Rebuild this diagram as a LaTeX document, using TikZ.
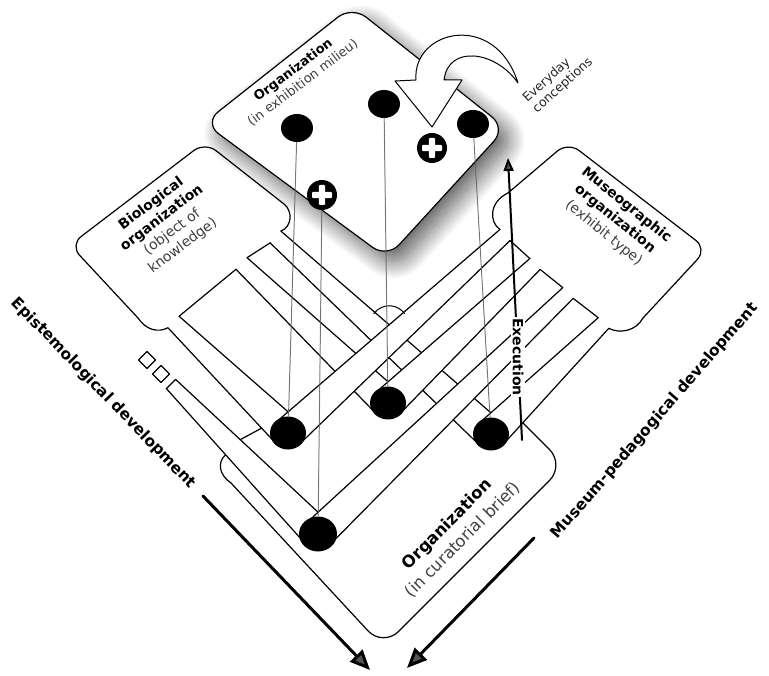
\documentclass[tikz,border=0pt]{standalone}
\usepackage{fontspec}
\setmainfont{DejaVu Sans}
\usetikzlibrary{calc,arrows.meta,shapes.geometric,shadows.blur}

\newcommand\defarm[5]{%
  \coordinate (#1p0) at ($(#2)!#4!90:(#3)$);
  \coordinate (#1m0) at ($(#2)!#4!-90:(#3)$);
  \coordinate (#1p1) at ($(#3)!#5!-90:(#2)$);
  \coordinate (#1m1) at ($(#3)!#5!90:(#2)$);
}
\newcommand\drawarm[1]{%
  \fill[white] (#1p0) -- (#1p1) -- (#1m1) -- (#1m0) -- cycle;
  \draw (#1p0) -- (#1p1) (#1m0) -- (#1m1);
}

\begin{document}
\begin{tikzpicture}[x=1pt,y=-1pt,line width=1.2pt,line join=round,line cap=round,
  bigdot/.style={ellipse,fill=black,inner sep=0pt,minimum width=36pt,minimum height=33pt},
  topdot/.style={ellipse,fill=black,inner sep=0pt,minimum width=32pt,minimum height=28pt},
  plusdot/.style={circle,fill=black,inner sep=0pt,minimum size=30pt},
  dotline/.style={densely dotted,line width=1pt,black!60},
  sqbox/.style={draw,rotate=45,minimum size=12pt,inner sep=0pt},
  bigarrow/.style={line width=3pt,-{Triangle[length=20pt,width=17pt]}},
  sidelabel/.style={font=\bfseries\fontsize{15.5}{18}\selectfont,inner sep=0pt}]
\useasboundingbox (0,0) rectangle (769,676);

% dot centres
\coordinate (D1) at (288,433);
\coordinate (D2) at (388,403);
\coordinate (D3) at (491,434);
\coordinate (D4) at (318,534);

% arm bases
\coordinate (bL3) at (275.5,237);
\coordinate (bL2) at (241.5,263.5);
\coordinate (bL1) at (173.5,322);
\coordinate (bL4) at (171,384);
\coordinate (bR1) at (505,235);
\coordinate (bR2) at (535,264);
\coordinate (bR4) at (568,293);
\coordinate (bR3) at (603.5,323);

\defarm{L3}{bL3}{D3}{8pt}{16pt}
\defarm{L2}{bL2}{D2}{8pt}{16pt}
\defarm{L1}{bL1}{D1}{8pt}{16pt}
\defarm{L4}{bL4}{D4}{6.5pt}{16pt}
\defarm{R1}{bR1}{D1}{7.5pt}{16pt}
\defarm{R2}{bR2}{D2}{7.5pt}{16pt}
\defarm{R4}{bR4}{D4}{7.5pt}{16pt}
\defarm{R3}{bR3}{D3}{7.5pt}{16pt}

% bottom card (curatorial brief)
\coordinate (bn) at ($(L4m0)!0.423!(L4m1)$);
\draw (bn) .. controls (217,462) and (219,475) .. (231,483);
\draw[rounded corners=22pt] (231,483) -- (383,647) -- (565,465) -- (515,415);

% left card head
\draw (L3p0) .. controls (292,227) and (293,211) .. (284,204);
\draw[rounded corners=14pt] (284,204) -- (205,142) -- (70,245) -- (138,318);
\draw (138,318) .. controls (146,330) and (158,333) .. (L1m0);

% right card head
\draw (R1m0) .. controls (489,222) and (489,202) .. (508,193);
\draw[rounded corners=14pt] (508,193) -- (568,142) -- (707,249) -- (643,318);
\draw (643,318) .. controls (636,331) and (620,334) .. (R3p0);

% arms
\drawarm{L4}
\drawarm{L1}
\drawarm{L2}
\drawarm{L3}
\drawarm{R1}
\drawarm{R2}
\drawarm{R4}
\drawarm{R3}

% slot caps and rung
\draw (L3m0) -- (L2p0) (L2m0) -- (L1p0) (L4p0) -- (L4m0)
      (R1p0) -- (R2m0) (R2p0) -- (R4m0) (R4p0) -- (R3m0);
\draw ($(L4p0)!0.42!(L4p1)$) -- ($(L1m0)!0.86!(L1m1)$);

% small squares
\node[sqbox] (sq1) at (147,360) {};
\node[sqbox] (sq2) at (161,374) {};

% angle arc
\coordinate (X) at (intersection of R1m0--R1m1 and L3p0--L3p1);
\draw[line width=1pt] ($(X)+(144:19pt)$) arc[start angle=144,end angle=36,radius=19pt];

% top card (exhibition milieu)
\draw[fill=white,rounded corners=18pt,
  blur shadow={shadow xshift=9pt,shadow yshift=-10pt,shadow blur radius=18pt,
    shadow blur steps=30,shadow opacity=65}]
  (352,6) -- (506,128) -- (387,258) -- (204,123) -- cycle;

% curved hollow arrow
\draw[fill=white,line width=1pt] (518,83) .. controls (495,10) and (412,30) .. (416,80)
  -- (395,81) -- (432,127) -- (462,80) -- (444,80)
  .. controls (448,45) and (495,50) .. (518,83) -- cycle;

\node[rotate=42,align=left,inner sep=0pt,text=black!85,font=\fontsize{12.5}{14.5}\selectfont] (every) at (558,80) {Everyday\\conceptions};

\node[rotate=37,align=center,inner sep=0pt,font=\fontsize{13}{16}\selectfont] (exh) at (298,76.5)
  {\textbf{Organization}\\\textcolor{black!75}{(in exhibition milieu)}};

% dots
\node[topdot] (t1) at (297,128) {};
\node[topdot] (t2) at (384,104) {};
\node[topdot] (t3) at (473,124) {};
\node[plusdot] (p1) at (322,195) {};
\node[plusdot] (p2) at (432,148) {};
\foreach \c in {p1,p2} {
  \fill[white,rounded corners=1pt] ($(\c)+(-10,-3.2)$) rectangle ($(\c)+(10,3.2)$);
  \fill[white,rounded corners=1pt] ($(\c)+(-3.2,-10)$) rectangle ($(\c)+(3.2,10)$);
}
\node[bigdot] (d1) at (D1) {};
\node[bigdot] (d2) at (D2) {};
\node[bigdot] (d3) at (D3) {};
\node[bigdot,minimum width=38pt,minimum height=35pt] (d4) at (D4) {};

% dotted verticals
\draw[dotline] (t1) -- (d1);
\draw[dotline] (t2) -- (d2);
\draw[dotline] (t3) -- (d3);
\draw[dotline] (p1) -- (d4);

% execution arrow
\coordinate (ex0) at (522,440);
\coordinate (ex1) at (508,158);
\draw[line width=2pt,-{Triangle[length=13pt,width=10pt]}] (ex0) -- (ex1);
\node[rotate=-90,fill=white,inner sep=1.5pt,font=\bfseries\fontsize{14}{16}\selectfont] (exec) at (518,357) {Execution};

% big arrows
\coordinate (ea0) at (203,496);
\coordinate (ea1) at (370,670);
\coordinate (ma0) at (534,538);
\coordinate (ma1) at (407,668);
\draw[bigarrow] (ea0) -- (ea1);
\draw[bigarrow] (ma0) -- (ma1);

\node[sidelabel,rotate=-46] (epi) at (103.5,393.5) {Epistemological development};
\node[sidelabel,rotate=49] (mus) at (655,421) {Museum-pedagogical development};

% card labels
\node[rotate=37,align=center,inner sep=0pt,font=\fontsize{14}{17.5}\selectfont] (biol) at (167,225)
  {\textbf{Biological}\\\textbf{organization}\\\textcolor{black!75}{(object of}\\\textcolor{black!75}{knowledge)}};
\node[rotate=-39,align=center,inner sep=0pt,font=\fontsize{14}{18}\selectfont] (museo) at (615,219)
  {\textbf{Museographic}\\\textbf{organization}\\\textcolor{black!75}{(exhibit type)}};
\node[rotate=45,align=center,inner sep=0pt,font=\fontsize{16.5}{22}\selectfont] (cur) at (455,532)
  {\textbf{Organization}\\\textcolor{black!75}{(in curatorial brief)}};
\end{tikzpicture}
\end{document}
